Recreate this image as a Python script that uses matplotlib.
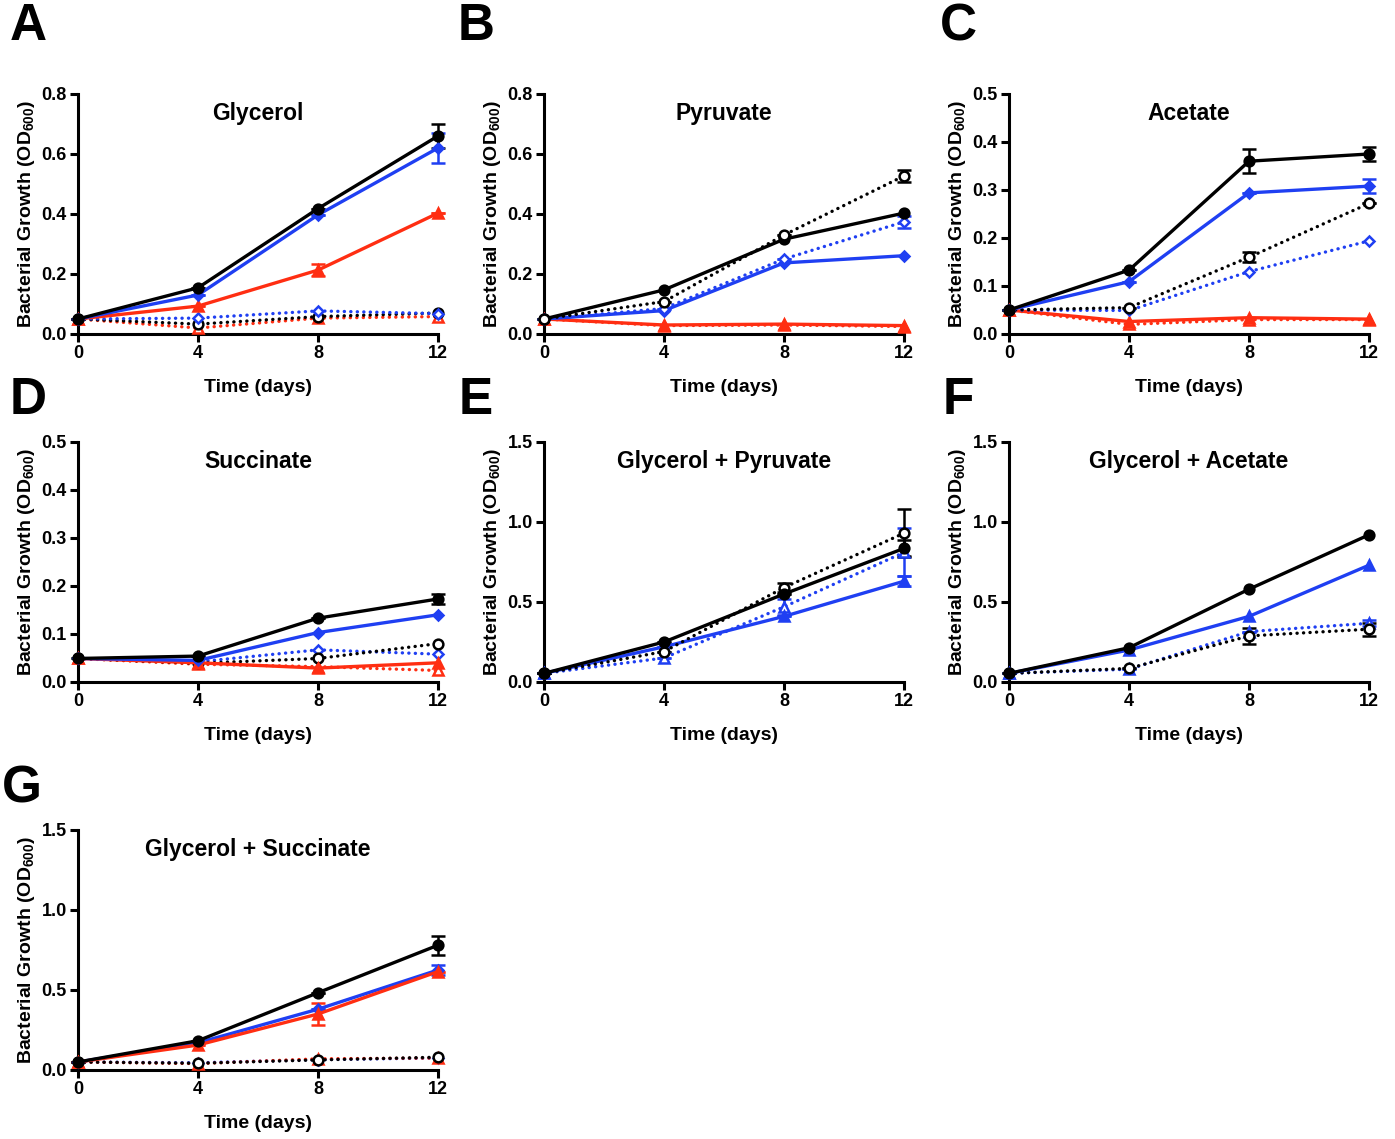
import numpy as np
import matplotlib
matplotlib.use("Agg")
import matplotlib.pyplot as plt

plt.rcParams['font.family'] = ['Liberation Sans', 'DejaVu Sans']
plt.rcParams['font.weight'] = 'bold'
plt.rcParams['mathtext.fontset'] = 'custom'
plt.rcParams['mathtext.rm'] = 'Liberation Sans:bold'
plt.rcParams['mathtext.bf'] = 'Liberation Sans:bold'

BLACK = '#000000'
BLUE = '#1f3ff2'
RED = '#ff2e12'

days = [0, 4, 8, 12]

# A - Glycerol
a_black = [0.05, 0.154, 0.418, 0.66]
a_black_err = [0, 0, 0, 0.04]
a_blue = [0.05, 0.13, 0.397, 0.62]
a_blue_err = [0, 0, 0, 0.05]
a_red = [0.05, 0.093, 0.213, 0.403]
a_red_err = [0, 0, 0.02, 0]
a_blue_o = [0.05, 0.053, 0.077, 0.068]
a_black_o = [0.05, 0.033, 0.058, 0.07]
a_red_o = [0.05, 0.02, 0.053, 0.058]

# B - Pyruvate
b_black = [0.05, 0.147, 0.316, 0.403]
b_black_o = [0.05, 0.108, 0.33, 0.527]
b_black_o_err = [0, 0, 0, 0.02]
b_blue = [0.05, 0.078, 0.237, 0.261]
b_blue_o = [0.05, 0.085, 0.25, 0.374]
b_blue_o_err = [0, 0, 0, 0.02]
b_red = [0.05, 0.03, 0.033, 0.028]
b_red_o = [0.05, 0.028, 0.03, 0.025]

# C - Acetate
c_black = [0.05, 0.133, 0.36, 0.375]
c_black_err = [0, 0, 0.025, 0.015]
c_blue = [0.05, 0.109, 0.294, 0.308]
c_blue_err = [0, 0, 0, 0.015]
c_black_o = [0.05, 0.055, 0.16, 0.272]
c_black_o_err = [0, 0, 0.01, 0]
c_blue_o = [0.05, 0.049, 0.13, 0.194]
c_red = [0.05, 0.026, 0.034, 0.031]
c_red_o = [0.05, 0.02, 0.03, 0.03]

# D - Succinate
d_black = [0.049, 0.054, 0.133, 0.173]
d_black_err = [0, 0, 0, 0.01]
d_blue = [0.049, 0.045, 0.103, 0.14]
d_black_o = [0.049, 0.039, 0.049, 0.08]
d_blue_o = [0.049, 0.042, 0.067, 0.058]
d_red = [0.049, 0.04, 0.029, 0.04]
d_red_o = [0.049, 0.037, 0.032, 0.024]

# E - Glycerol + Pyruvate
e_black = [0.054, 0.25, 0.55, 0.835]
e_black_err = [0, 0, 0, 0.05]
e_black_o = [0.054, 0.19, 0.59, 0.93]
e_black_o_err = [0, 0, 0.03, 0.15]
e_blue = [0.054, 0.22, 0.41, 0.63]
e_blue_err = [0, 0, 0, 0.03]
e_blue_o = [0.054, 0.15, 0.47, 0.81]
e_blue_o_err = [0, 0, 0.05, 0.15]

# F - Glycerol + Acetate
f_black = [0.054, 0.214, 0.58, 0.92]
f_blue = [0.054, 0.2, 0.41, 0.73]
f_black_o = [0.054, 0.085, 0.288, 0.33]
f_black_o_err = [0, 0, 0.05, 0.04]
f_blue_o = [0.054, 0.08, 0.315, 0.367]
f_blue_o_err = [0, 0, 0, 0.02]

# G - Glycerol + Succinate
g_black = [0.05, 0.183, 0.483, 0.78]
g_black_err = [0, 0, 0, 0.06]
g_blue = [0.05, 0.17, 0.38, 0.625]
g_blue_err = [0, 0, 0, 0.03]
g_red = [0.05, 0.156, 0.35, 0.615]
g_red_err = [0, 0, 0.07, 0]
g_black_o = [0.05, 0.042, 0.063, 0.08]
g_blue_o = [0.05, 0.045, 0.065, 0.075]
g_red_o = [0.05, 0.04, 0.07, 0.075]

W, H = 1395, 1139
fig = plt.figure(figsize=(W / 100, H / 100), dpi=100)

# round dots for the dotted series
DOT = (0, (0.05, 1.9))


def series(ax, y, color, marker, filled, dotted, err=None, ms=7):
    ls = DOT if dotted else '-'
    mfc = color if filled else 'white'
    ax.plot(days, y, color=color, linestyle=ls, linewidth=2.4,
            dash_capstyle='round', marker=marker, markersize=ms,
            markerfacecolor=mfc, markeredgecolor=color, markeredgewidth=1.8,
            zorder=3, clip_on=False)
    if err is not None:
        ax.errorbar(days, y, yerr=err, fmt='none', ecolor=color,
                    elinewidth=1.8, capsize=5, capthick=1.8, zorder=2,
                    clip_on=False)


def make_axes(px_left, px_bottom, ymax, yticks, fmt, title, letter, lx, ly):
    ax = fig.add_axes([px_left / W, 1 - px_bottom / H, 360 / W, 240 / H])
    ax.set_xlim(0, 12)
    ax.set_ylim(0, ymax)
    ax.set_xticks(days)
    ax.set_yticks(yticks)
    ax.set_yticklabels([fmt.format(v) for v in yticks])
    for s in ['top', 'right']:
        ax.spines[s].set_visible(False)
    for s in ['left', 'bottom']:
        ax.spines[s].set_linewidth(2.2)
    ax.tick_params(direction='out', length=6, width=2.2, labelsize=13,
                   pad=2)
    ax.set_xlabel('Time (days)', fontsize=14, fontweight='bold',
                  labelpad=12)
    ax.set_ylabel(r'Bacterial Growth (OD$_{600}$)', fontsize=14,
                  fontweight='bold', labelpad=3)
    ax.text(0.5, 0.92, title, transform=ax.transAxes, ha='center',
            va='center', fontsize=16.5, fontweight='bold')
    fig.text(lx / W, 1 - ly / H, letter, fontsize=37, fontweight='bold',
             ha='center', va='center')
    return ax


# A
ax = make_axes(78, 334, 0.8, [0, 0.2, 0.4, 0.6, 0.8], '{:.1f}', 'Glycerol',
               'A', 28, 27)
series(ax, a_red_o, RED, '^', False, True)
series(ax, a_black_o, BLACK, 'o', False, True)
series(ax, a_blue_o, BLUE, 'D', False, True, ms=5.5)
series(ax, a_red, RED, '^', True, False, a_red_err)
series(ax, a_blue, BLUE, 'D', True, False, a_blue_err, ms=5)
series(ax, a_black, BLACK, 'o', True, False, a_black_err)

# B
ax = make_axes(544, 334, 0.8, [0, 0.2, 0.4, 0.6, 0.8], '{:.1f}', 'Pyruvate',
               'B', 476, 27)
series(ax, b_red_o, RED, '^', False, True)
series(ax, b_red, RED, '^', True, False)
series(ax, b_blue, BLUE, 'D', True, False, ms=5)
series(ax, b_blue_o, BLUE, 'D', False, True, b_blue_o_err, ms=5.5)
series(ax, b_black, BLACK, 'o', True, False)
series(ax, b_black_o, BLACK, 'o', False, True, b_black_o_err)

# C
ax = make_axes(1009, 334, 0.5, [0, 0.1, 0.2, 0.3, 0.4, 0.5], '{:.1f}',
               'Acetate', 'C', 958, 27)
series(ax, c_red_o, RED, '^', False, True)
series(ax, c_red, RED, '^', True, False)
series(ax, c_blue_o, BLUE, 'D', False, True, ms=5.5)
series(ax, c_black_o, BLACK, 'o', False, True, c_black_o_err)
series(ax, c_blue, BLUE, 'D', True, False, c_blue_err, ms=5)
series(ax, c_black, BLACK, 'o', True, False, c_black_err)

# D
ax = make_axes(78, 682, 0.5, [0, 0.1, 0.2, 0.3, 0.4, 0.5], '{:.1f}',
               'Succinate', 'D', 28, 400)
series(ax, d_red_o, RED, '^', False, True)
series(ax, d_blue_o, BLUE, 'D', False, True, ms=5.5)
series(ax, d_black_o, BLACK, 'o', False, True)
series(ax, d_red, RED, '^', True, False)
series(ax, d_blue, BLUE, 'D', True, False, ms=5)
series(ax, d_black, BLACK, 'o', True, False, d_black_err)

# E
ax = make_axes(544, 682, 1.5, [0, 0.5, 1.0, 1.5], '{:.1f}',
               'Glycerol + Pyruvate', 'E', 476, 400)
series(ax, e_blue_o, BLUE, '^', False, True, e_blue_o_err)
series(ax, e_blue, BLUE, '^', True, False, e_blue_err)
series(ax, e_black_o, BLACK, 'o', False, True, e_black_o_err)
series(ax, e_black, BLACK, 'o', True, False, e_black_err)

# F
ax = make_axes(1009, 682, 1.5, [0, 0.5, 1.0, 1.5], '{:.1f}',
               'Glycerol + Acetate', 'F', 958, 400)
series(ax, f_blue_o, BLUE, '^', False, True, f_blue_o_err)
series(ax, f_black_o, BLACK, 'o', False, True, f_black_o_err)
series(ax, f_blue, BLUE, '^', True, False)
series(ax, f_black, BLACK, 'o', True, False)

# G
ax = make_axes(78, 1070, 1.5, [0, 0.5, 1.0, 1.5], '{:.1f}',
               'Glycerol + Succinate', 'G', 22, 789)
series(ax, g_blue_o, BLUE, 'D', False, True, ms=5.5)
series(ax, g_red_o, RED, '^', False, True)
series(ax, g_black_o, BLACK, 'o', False, True)
series(ax, g_blue, BLUE, 'D', True, False, g_blue_err, ms=5)
series(ax, g_red, RED, '^', True, False, g_red_err)
series(ax, g_black, BLACK, 'o', True, False, g_black_err)

fig.savefig('out.png', dpi=100)
